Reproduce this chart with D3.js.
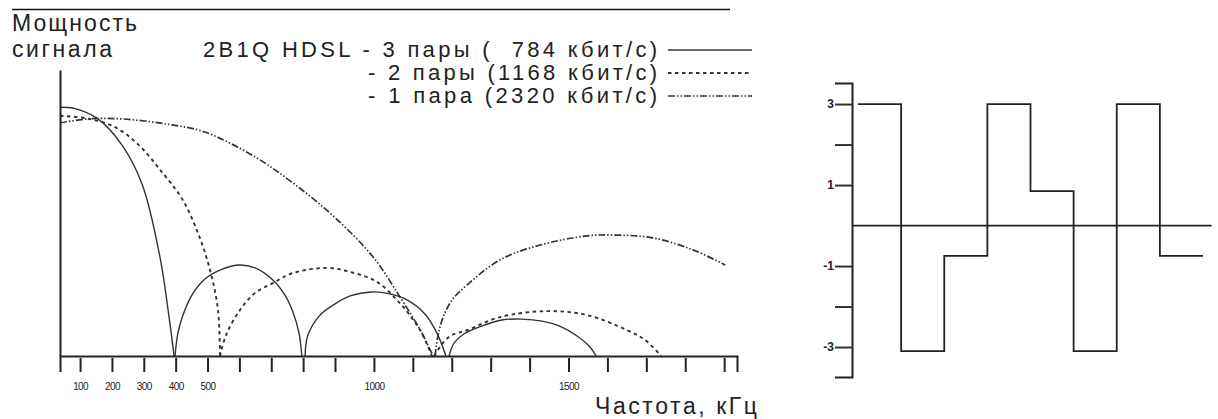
<!DOCTYPE html>
<html>
<head>
<meta charset="utf-8">
<script src="https://d3js.org/d3.v7.min.js"></script>
<style>
  body { margin: 0; background: #fff; }
  text { font-family: "Liberation Sans", Arial, sans-serif; fill: #222; }
</style>
</head>
<body>
<script>
// ---- data ----
// spectrum lobes: [frequency kHz, relative power]
var pairs3 = [
  [[37,0.87],[85,0.865],[155,0.83],[230,0.74],[295,0.6],[350,0.35],[380,0.13],[395,0]],
  [[398,0],[407,0.08],[423,0.143],[451,0.213],[492,0.269],[539,0.3],[596,0.318],[649,0.308],[705,0.266],[743,0.213],[768,0.154],[787,0.08],[796,0]],
  [[806,0],[815,0.073],[853,0.143],[894,0.178],[939,0.21],[995,0.224],[1041,0.217],[1085,0.196],[1131,0.147],[1162,0.08],[1185,0]],
  [[1193,0],[1206,0.045],[1231,0.077],[1278,0.105],[1329,0.126],[1380,0.129],[1432,0.122],[1476,0.105],[1522,0.07],[1553,0.035],[1571,0]]
];
var pairs2 = [
  [[37,0.84],[125,0.83],[210,0.8],[282,0.74],[357,0.643],[420,0.55],[470,0.43],[508,0.3],[533,0.16],[539,0]],
  [[539,0],[558,0.073],[602,0.161],[649,0.22],[705,0.255],[768,0.29],[875,0.308],[939,0.294],[1008,0.259],[1059,0.196],[1092,0.143],[1123,0.08],[1149,0]],
  [[1155,0],[1177,0.045],[1200,0.073],[1239,0.09],[1324,0.136],[1445,0.157],[1548,0.143],[1651,0.09],[1697,0.056],[1738,0]]
];
var pairs1 = [
  [[37,0.815],[125,0.829],[232,0.829],[388,0.808],[492,0.783],[649,0.696],[768,0.605],[894,0.49],[998,0.346],[1067,0.206],[1119,0.091],[1152,0]],
  [[1157,0],[1165,0.073],[1178,0.136],[1201,0.196],[1239,0.248],[1324,0.336],[1427,0.388],[1548,0.42],[1615,0.423],[1717,0.413],[1820,0.371],[1903,0.318]]
];
var freqTicks = [100,200,300,400,500,600,700,800,900,1000,1100,1200,1300,1400,1500,1600,1700,1800,1900];
var freqLabels = [100,200,300,400,500,1000,1500];
var legendLabels = ["2B1Q HDSL - 3 пары (  784 кбит/с)", "- 2 пары (1168 кбит/с)", "- 1 пара (2320 кбит/с)"];

// 2B1Q line signal
var symbols = [3, -3.1, -0.75, 3, 0.85, -3.1, 3, -0.75];
var levelTicks = [-3, -2, -1, 1, 2, 3];
var levelLabels = [-3, -1, 1, 3];

var width = 1218, height = 419;
var svg = d3.select("body").append("svg")
    .attr("width", width)
    .attr("height", height);

// top rule
svg.append("line")
    .attr("x1", 12).attr("x2", 730).attr("y1", 9.5).attr("y2", 9.5)
    .attr("stroke", "#111").attr("stroke-width", 1.5);

// ---- spectrum chart ----
var x = d3.scaleLinear().domain([37, 900, 1933]).range([60, 335, 737]);
var y = d3.scaleLinear().domain([0, 1]).range([356, 70]);

var line = d3.line()
    .x(function(d) { return x(d[0]); })
    .y(function(d) { return y(d[1]); })
    .curve(d3.curveCatmullRom.alpha(0.5));

var styles = [
  {data: pairs3, dash: null, w: 1.4},
  {data: pairs2, dash: "3.5,3.5", w: 1.9},
  {data: pairs1, dash: "7,2,1.5,2,1.5,2", w: 1.7}
];

styles.forEach(function(s) {
  svg.append("g").selectAll("path")
      .data(s.data)
    .enter().append("path")
      .attr("d", line)
      .attr("fill", "none")
      .attr("stroke", "#333")
      .attr("stroke-width", s.w)
      .attr("stroke-dasharray", s.dash);
});

// axes
var xAxis = d3.axisBottom(x)
    .tickValues(freqTicks)
    .tickSizeOuter(0)
    .tickSize(16)
    .tickPadding(11)
    .tickFormat(function(d) { return freqLabels.indexOf(d) >= 0 ? d : ""; });

var gx = svg.append("g")
    .attr("transform", "translate(0," + y(0) + ")")
    .call(xAxis);
gx.select(".domain").attr("stroke", "#222").attr("stroke-width", 2);
gx.selectAll(".tick line").attr("stroke", "#222").attr("stroke-width", 2).attr("y1", 2);
gx.selectAll(".tick text")
    .attr("font-family", "'Liberation Sans Narrow', 'Liberation Sans', sans-serif")
    .attr("font-size", 10)
    .attr("letter-spacing", -0.6)
    .attr("fill", "#444");

var gy = svg.append("g")
    .attr("transform", "translate(" + x(37) + ",0)")
    .call(d3.axisLeft(y).tickValues([]).tickSizeOuter(0));
gy.select(".domain").attr("stroke", "#222").attr("stroke-width", 2);

// titles
svg.append("text").attr("x", 12).attr("y", 31)
    .attr("font-size", 23).attr("textLength", 125).text("Мощность");
svg.append("text").attr("x", 12).attr("y", 57)
    .attr("font-size", 23).attr("textLength", 100).text("сигнала");
svg.append("text").attr("x", 595).attr("y", 414)
    .attr("font-size", 23).attr("textLength", 162).text("Частота, кГц");

// legend
var legendStart = [203, 368, 368];
legendLabels.forEach(function(t, i) {
  var yy = 57 + i * 23;
  svg.append("text")
      .attr("x", legendStart[i]).attr("y", yy)
      .attr("font-size", 22)
      .attr("textLength", 657 - legendStart[i])
      .attr("xml:space", "preserve")
      .style("white-space", "pre")
      .text(t);
  svg.append("line")
      .attr("x1", 668).attr("x2", 752)
      .attr("y1", yy - 7).attr("y2", yy - 7)
      .attr("stroke", "#333")
      .attr("stroke-width", styles[i].w)
      .attr("stroke-dasharray", styles[i].dash);
});

// ---- 2B1Q waveform ----
var xs = d3.scaleLinear().domain([0, symbols.length]).range([858, 1203]);
var ys = d3.scaleLinear().domain([-3.74, 3.52]).range([377, 83]);

var ly = svg.append("g")
    .attr("transform", "translate(852,0)")
    .call(d3.axisLeft(ys)
      .tickValues(levelTicks)
      .tickSizeOuter(0)
      .tickSize(17)
      .tickPadding(1)
      .tickFormat(function(d) { return levelLabels.indexOf(d) >= 0 ? d : ""; }));
ly.select(".domain").attr("stroke", "#222").attr("stroke-width", 2);
ly.selectAll(".tick line").attr("stroke", "#333").attr("stroke-width", 2);
ly.selectAll(".tick text")
    .attr("font-size", 12)
    .attr("font-weight", "bold")
    .attr("fill", "#222");

svg.append("line")
    .attr("x1", 852).attr("x2", xs(8.2))
    .attr("y1", ys(0)).attr("y2", ys(0))
    .attr("stroke", "#222").attr("stroke-width", 1.8);

var stepData = symbols.map(function(v, i) { return [i, v]; });
stepData.push([symbols.length, symbols[symbols.length - 1]]);

svg.append("path")
    .datum(stepData)
    .attr("d", d3.line()
      .x(function(d) { return xs(d[0]); })
      .y(function(d) { return ys(d[1]); })
      .curve(d3.curveStepAfter))
    .attr("fill", "none")
    .attr("stroke", "#222")
    .attr("stroke-width", 1.8);
</script>
</body>
</html>
